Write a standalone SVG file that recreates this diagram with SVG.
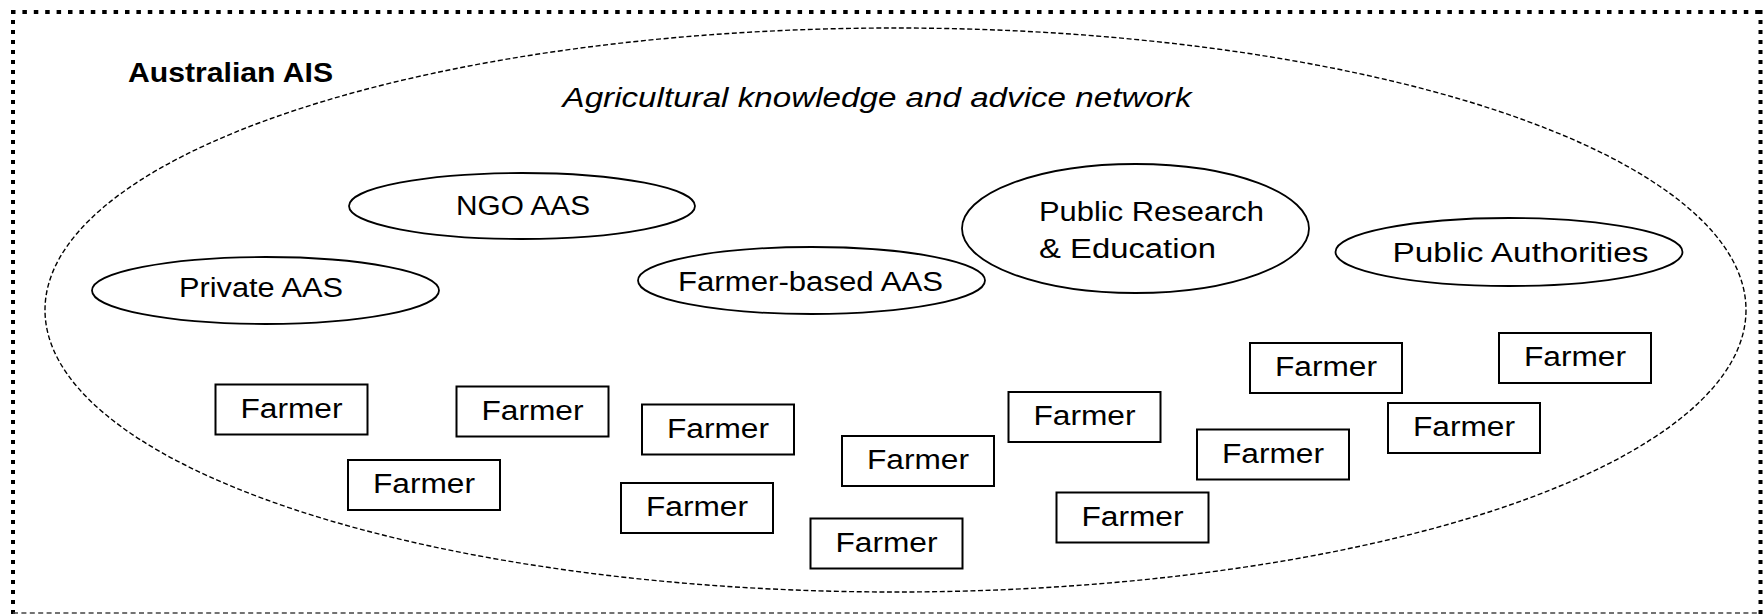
<svg xmlns="http://www.w3.org/2000/svg" width="1764" height="614" viewBox="0 0 1764 614">
<style>
.lbl{font-family:"Liberation Sans",Arial,sans-serif;font-size:27px;fill:#000}
.oval{fill:#fff;stroke:#000;stroke-width:1.8}
.box{fill:#fff;stroke:#000;stroke-width:2}
.dotH{stroke:#000;stroke-width:4;stroke-dasharray:4.5 6.9;fill:none}
.dotV{stroke:#000;stroke-width:4;stroke-dasharray:4 6;fill:none}
</style>
<rect width="1764" height="614" fill="#fff"/>
<g id="frame">
<line class="dotH" x1="11" y1="12" x2="1762" y2="12"/>
<line class="dotV" x1="13" y1="10" x2="13" y2="614"/>
<line class="dotV" x1="1760.5" y1="10" x2="1760.5" y2="614"/>
<line x1="13" y1="613" x2="1760" y2="613" stroke="#444" stroke-width="1.4" stroke-dasharray="5 3.4"/>
<text class="lbl" x="128" y="82" font-weight="bold" textLength="205" lengthAdjust="spacingAndGlyphs">Australian AIS</text>
</g>
<g id="network">
<ellipse cx="895.5" cy="310" rx="850.5" ry="282" fill="none" stroke="#000" stroke-width="1.4" stroke-dasharray="5 2.6"/>
<text class="lbl" x="562.5" y="107" font-style="italic" textLength="629" lengthAdjust="spacingAndGlyphs">Agricultural knowledge and advice network</text>
</g>
<g id="connectors"></g>
<g id="private-aas"><ellipse class="oval" cx="265.5" cy="290.5" rx="173.5" ry="33.5"/><text class="lbl" x="179" y="297" textLength="164" lengthAdjust="spacingAndGlyphs">Private AAS</text></g>
<g id="ngo-aas"><ellipse class="oval" cx="522" cy="206" rx="173" ry="33"/><text class="lbl" x="456" y="215" textLength="134" lengthAdjust="spacingAndGlyphs">NGO AAS</text></g>
<g id="farmer-based-aas"><ellipse class="oval" cx="811.5" cy="280.5" rx="173.5" ry="33.5"/><text class="lbl" x="678" y="291" textLength="265" lengthAdjust="spacingAndGlyphs">Farmer-based AAS</text></g>
<g id="public-research"><ellipse class="oval" cx="1135.5" cy="228.5" rx="173.5" ry="64.5"/><text class="lbl" x="1039" y="221" textLength="225" lengthAdjust="spacingAndGlyphs">Public Research</text><text class="lbl" x="1039" y="258" textLength="177" lengthAdjust="spacingAndGlyphs">&amp; Education</text></g>
<g id="public-authorities"><ellipse class="oval" cx="1509" cy="252" rx="173.5" ry="34"/><text class="lbl" x="1392.5" y="262" textLength="256" lengthAdjust="spacingAndGlyphs">Public Authorities</text></g>
<g id="farmer1"><rect class="box" x="215.5" y="384.5" width="152" height="50"/><text class="lbl" x="240.5" y="417.5" textLength="102" lengthAdjust="spacingAndGlyphs">Farmer</text></g>
<g id="farmer2"><rect class="box" x="456.5" y="386.5" width="152" height="50"/><text class="lbl" x="481.5" y="419.5" textLength="102" lengthAdjust="spacingAndGlyphs">Farmer</text></g>
<g id="farmer3"><rect class="box" x="348" y="460" width="152" height="50"/><text class="lbl" x="373" y="493" textLength="102" lengthAdjust="spacingAndGlyphs">Farmer</text></g>
<g id="farmer4"><rect class="box" x="642" y="404.5" width="152" height="50"/><text class="lbl" x="667" y="437.5" textLength="102" lengthAdjust="spacingAndGlyphs">Farmer</text></g>
<g id="farmer5"><rect class="box" x="621" y="483" width="152" height="50"/><text class="lbl" x="646" y="516" textLength="102" lengthAdjust="spacingAndGlyphs">Farmer</text></g>
<g id="farmer6"><rect class="box" x="842" y="436" width="152" height="50"/><text class="lbl" x="867" y="469" textLength="102" lengthAdjust="spacingAndGlyphs">Farmer</text></g>
<g id="farmer7"><rect class="box" x="810.5" y="518.5" width="152" height="50"/><text class="lbl" x="835.5" y="551.5" textLength="102" lengthAdjust="spacingAndGlyphs">Farmer</text></g>
<g id="farmer8"><rect class="box" x="1008.5" y="392" width="152" height="50"/><text class="lbl" x="1033.5" y="425" textLength="102" lengthAdjust="spacingAndGlyphs">Farmer</text></g>
<g id="farmer9"><rect class="box" x="1056.5" y="492.5" width="152" height="50"/><text class="lbl" x="1081.5" y="525.5" textLength="102" lengthAdjust="spacingAndGlyphs">Farmer</text></g>
<g id="farmer10"><rect class="box" x="1250" y="343" width="152" height="50"/><text class="lbl" x="1275" y="376" textLength="102" lengthAdjust="spacingAndGlyphs">Farmer</text></g>
<g id="farmer11"><rect class="box" x="1197" y="429.5" width="152" height="50"/><text class="lbl" x="1222" y="462.5" textLength="102" lengthAdjust="spacingAndGlyphs">Farmer</text></g>
<g id="farmer12"><rect class="box" x="1388" y="403" width="152" height="50"/><text class="lbl" x="1413" y="436" textLength="102" lengthAdjust="spacingAndGlyphs">Farmer</text></g>
<g id="farmer13"><rect class="box" x="1499" y="333" width="152" height="50"/><text class="lbl" x="1524" y="366" textLength="102" lengthAdjust="spacingAndGlyphs">Farmer</text></g>
</svg>
